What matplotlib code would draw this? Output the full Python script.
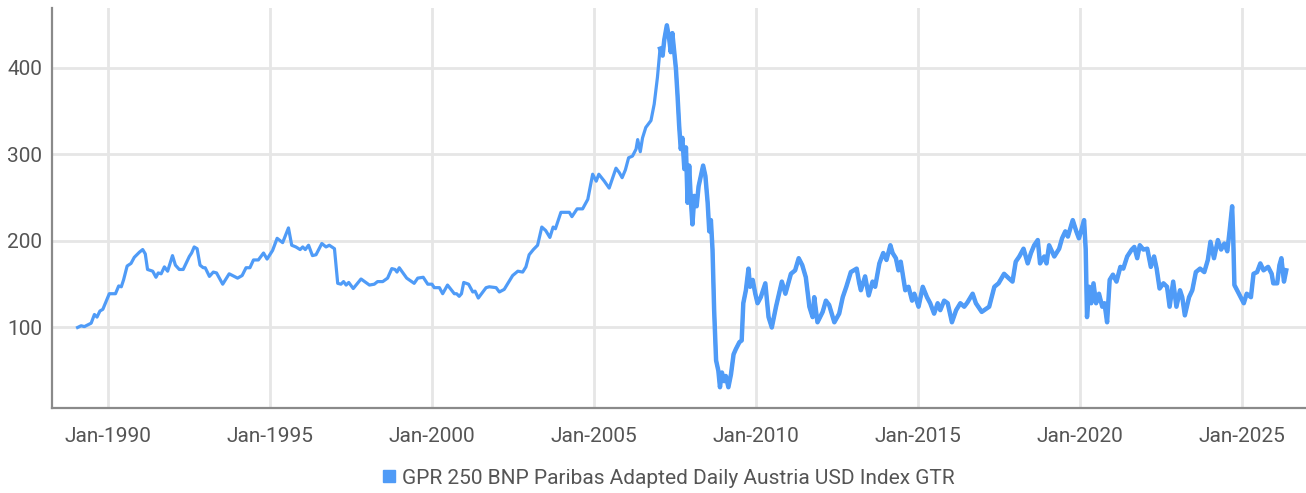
import matplotlib.pyplot as plt
from matplotlib.lines import Line2D

# index values; dates as decimal years
dates = [
    1989.05, 1989.16, 1989.26, 1989.47, 1989.57, 1989.65, 1989.74, 1989.83,
    1990.03, 1990.22, 1990.32, 1990.40, 1990.47, 1990.58, 1990.70, 1990.80,
    1990.96, 1991.06, 1991.14, 1991.21, 1991.37, 1991.47, 1991.54, 1991.63,
    1991.73, 1991.83, 1991.98, 1992.07, 1992.19, 1992.31, 1992.50, 1992.57,
    1992.65, 1992.74, 1992.83, 1992.93, 1992.99, 1993.12, 1993.24, 1993.34,
    1993.53, 1993.73, 1993.89, 1993.99, 1994.13, 1994.25, 1994.37, 1994.48,
    1994.63, 1994.79, 1994.90, 1995.07, 1995.21, 1995.38, 1995.56, 1995.66,
    1995.79, 1995.92, 1996.00, 1996.08, 1996.18, 1996.30, 1996.41, 1996.59,
    1996.72, 1996.82, 1996.98, 1997.08, 1997.18, 1997.26, 1997.34, 1997.42,
    1997.56, 1997.80, 1998.06, 1998.21, 1998.31, 1998.47, 1998.62, 1998.75,
    1998.85, 1998.91, 1998.98, 1999.21, 1999.44, 1999.55, 1999.72, 1999.86,
    1999.99, 2000.06, 2000.22, 2000.32, 2000.47, 2000.68, 2000.75, 2000.83,
    2000.90, 2000.97, 2001.12, 2001.25, 2001.32, 2001.42, 2001.66, 2001.76,
    2001.97, 2002.07, 2002.22, 2002.48, 2002.64, 2002.79, 2002.89, 2002.99,
    2003.12, 2003.25, 2003.38, 2003.50, 2003.63, 2003.73, 2003.80, 2003.97,
    2004.23, 2004.31, 2004.47, 2004.64, 2004.80, 2004.95, 2005.06, 2005.14,
    2005.31, 2005.46, 2005.57, 2005.67, 2005.77, 2005.86, 2005.96, 2006.06,
    2006.18, 2006.29, 2006.34, 2006.42, 2006.49, 2006.59, 2006.75, 2006.85,
    2006.95, 2007.03, 2007.11, 2007.16, 2007.24, 2007.31, 2007.36, 2007.41,
    2007.47, 2007.52, 2007.57, 2007.62, 2007.67, 2007.72, 2007.78, 2007.83,
    2007.88, 2007.93, 2007.98, 2008.03, 2008.09, 2008.16, 2008.22, 2008.29,
    2008.36, 2008.43, 2008.50, 2008.55, 2008.60, 2008.65, 2008.70, 2008.76,
    2008.83, 2008.88, 2008.94, 2009.01, 2009.06, 2009.14, 2009.22, 2009.30,
    2009.37, 2009.48, 2009.55, 2009.60, 2009.68, 2009.76, 2009.81, 2009.89,
    2009.97, 2010.04, 2010.14, 2010.28, 2010.38, 2010.48, 2010.61, 2010.79,
    2010.90, 2011.07, 2011.20, 2011.31, 2011.42, 2011.53, 2011.64, 2011.74,
    2011.79, 2011.89, 2012.05, 2012.15, 2012.25, 2012.41, 2012.56, 2012.67,
    2012.78, 2012.92, 2013.10, 2013.18, 2013.23, 2013.36, 2013.47, 2013.59,
    2013.67, 2013.80, 2013.92, 2014.02, 2014.14, 2014.21, 2014.31, 2014.39,
    2014.46, 2014.60, 2014.70, 2014.81, 2014.88, 2015.01, 2015.14, 2015.27,
    2015.37, 2015.49, 2015.60, 2015.68, 2015.80, 2015.91, 2016.04, 2016.17,
    2016.30, 2016.42, 2016.52, 2016.68, 2016.78, 2016.96, 2017.19, 2017.35,
    2017.48, 2017.65, 2017.79, 2017.91, 2018.01, 2018.12, 2018.25, 2018.38,
    2018.48, 2018.58, 2018.69, 2018.76, 2018.89, 2018.96, 2019.04, 2019.20,
    2019.35, 2019.44, 2019.54, 2019.62, 2019.77, 2019.88, 2019.96, 2020.04,
    2020.12, 2020.17, 2020.21, 2020.28, 2020.34, 2020.41, 2020.49, 2020.58,
    2020.68, 2020.75, 2020.83, 2020.91, 2021.01, 2021.12, 2021.24, 2021.33,
    2021.45, 2021.59, 2021.67, 2021.76, 2021.84, 2021.95, 2022.07, 2022.18,
    2022.28, 2022.36, 2022.45, 2022.57, 2022.68, 2022.76, 2022.87, 2022.97,
    2023.08, 2023.15, 2023.23, 2023.36, 2023.46, 2023.57, 2023.70, 2023.83,
    2023.94, 2024.02, 2024.13, 2024.25, 2024.35, 2024.45, 2024.54, 2024.61,
    2024.69, 2024.72, 2024.76, 2024.87, 2024.98, 2025.05, 2025.14, 2025.27,
    2025.35, 2025.46, 2025.56, 2025.66, 2025.80, 2025.91, 2025.96, 2026.08,
    2026.15, 2026.21, 2026.29, 2026.36,
]
values = [
    100, 102, 101, 105, 115, 112, 119, 121,
    139, 139, 148, 147, 155, 171, 174, 181,
    187, 190, 185, 167, 165, 158, 163, 162,
    170, 165, 183, 172, 167, 167, 182, 186,
    193, 191, 172, 169, 169, 159, 164, 163,
    150, 162, 159, 157, 160, 169, 169, 178,
    178, 186, 179, 189, 203, 198, 215, 195,
    193, 190, 193, 190, 195, 183, 184, 197,
    193, 195, 191, 151, 150, 153, 149, 152,
    145, 156, 149, 150, 153, 153, 157, 168,
    167, 164, 169, 157, 151, 157, 158, 150,
    150, 146, 146, 139, 149, 139, 139, 136,
    139, 152, 150, 141, 142, 134, 146, 147,
    146, 141, 144, 160, 165, 164, 170, 184,
    190, 195, 216, 212, 204, 216, 214, 233,
    233, 228, 237, 237, 248, 277, 269, 277,
    269, 261, 273, 284, 279, 273, 282, 296,
    298, 306, 317, 303, 319, 331, 339, 358,
    389, 422, 414, 432, 449, 434, 418, 440,
    418, 399, 368, 333, 306, 319, 283, 308,
    244, 287, 248, 219, 252, 240, 263, 275,
    287, 275, 244, 211, 224, 190, 120, 62,
    50, 31, 48, 38, 44, 31, 46, 69,
    75, 83, 85, 128, 143, 168, 147, 155,
    139, 128, 135, 151, 112, 100, 124, 153,
    139, 162, 166, 180, 172, 158, 124, 112,
    135, 106, 118, 131, 126, 106, 116, 135,
    147, 164, 168, 151, 143, 159, 137, 153,
    147, 174, 186, 178, 195, 186, 180, 166,
    176, 143, 147, 131, 139, 124, 147, 135,
    128, 116, 128, 120, 131, 128, 106, 120,
    128, 124, 129, 139, 128, 118, 124, 147,
    151, 162, 157, 153, 176, 182, 191, 174,
    186, 195, 201, 174, 182, 174, 195, 182,
    191, 203, 211, 205, 224, 211, 203, 213,
    224, 190, 112, 147, 128, 151, 128, 139,
    124, 128, 106, 155, 161, 153, 170, 168,
    182, 190, 193, 180, 195, 190, 191, 170,
    182, 168, 145, 151, 147, 124, 153, 124,
    143, 135, 114, 135, 143, 164, 168, 164,
    178, 199, 180, 201, 190, 197, 188, 211,
    240, 209, 149, 141, 133, 128, 139, 135,
    162, 164, 174, 166, 170, 162, 151, 151,
    172, 180, 153, 166,
]
series_name = "GPR 250 BNP Paribas Adapted Daily Austria USD Index GTR"
tick_years = [1990, 1995, 2000, 2005, 2010, 2015, 2020, 2025]
tick_labels = [f"Jan-{y}" for y in tick_years]
y_ticks = [100, 200, 300, 400]

LINE = "#4f9bf7"
TEXT = "#555555"
GRID = "#e6e6e6"
SPINE = "#8a8a8a"

plt.rcParams['font.family'] = ['Roboto', 'DejaVu Sans']

fig = plt.figure(figsize=(13.06, 4.93), dpi=100)
ax = fig.add_axes([0.0398, 0.1724, 0.9602, 0.8114])

ax.plot(dates, values, color=LINE, lw=2.3, solid_joinstyle='round')
# the daily-noise part of the series reads as a heavier stroke
n0 = next(i for i, d in enumerate(dates) if d >= 2007.0)
ax.plot(dates[n0:], values[n0:], color=LINE, lw=3.2, solid_joinstyle='round')

ax.set_xlim(1988.26, 2026.97)
ax.set_ylim(7, 469)
ax.set_xticks(tick_years)
ax.set_xticklabels(tick_labels)
ax.set_yticks(y_ticks)

ax.grid(True, color=GRID, lw=2)
ax.set_axisbelow(True)
for s in ['top', 'right']:
    ax.spines[s].set_visible(False)
for s in ['left', 'bottom']:
    ax.spines[s].set_color(SPINE)
    ax.spines[s].set_linewidth(1.6)

ax.tick_params(length=0, labelsize=15, labelcolor=TEXT)
ax.tick_params(axis='x', pad=14)
ax.tick_params(axis='y', pad=7)

handle = Line2D([], [], marker='s', color=LINE, ls='none', markersize=9)
leg = fig.legend([handle], [series_name], loc='center', bbox_to_anchor=(0.512, 0.03),
                 frameon=False, handlelength=0.6, handletextpad=0.3,
                 prop={'size': 15})
for t in leg.get_texts():
    t.set_color(TEXT)

fig.savefig("out.png", dpi=100)
